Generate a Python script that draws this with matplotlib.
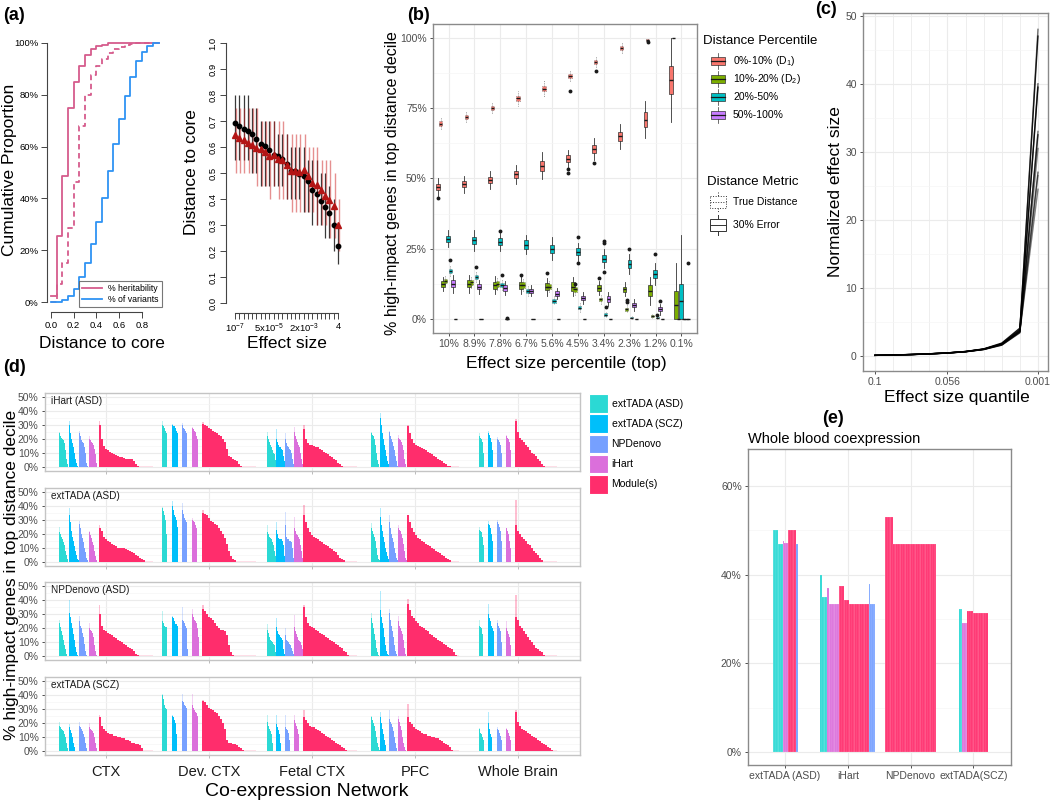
import numpy as np
import matplotlib
matplotlib.use("Agg")
import matplotlib.pyplot as plt
from matplotlib.patches import Rectangle
from matplotlib.lines import Line2D

plt.rcParams['font.family'] = ['Liberation Sans', 'DejaVu Sans']
plt.rcParams['mathtext.fontset'] = 'custom'
plt.rcParams['mathtext.rm'] = 'Liberation Sans'
plt.rcParams['mathtext.it'] = 'Liberation Sans:italic'

# ======================= DATA =======================
# (a) left: cumulative proportion vs distance to core
a_dist = [0.0, 0.05, 0.10, 0.15, 0.20, 0.25, 0.30, 0.35, 0.40, 0.45,
          0.50, 0.55, 0.60, 0.65, 0.70, 0.75, 0.80, 0.85, 0.90, 0.95]
a_herit = [2.5, 25.5, 48.5, 75, 85, 91, 95.5, 97.5, 98.7, 99.4,
           99.8, 100, 100, 100, 100, 100, 100, 100, 100, 100]
a_herit_err = [0, 7, 15, 28.5, 46.5, 68, 80, 87.5, 91, 94,
               96, 97.5, 98.5, 99.3, 99.7, 100, 100, 100, 100, 100]
a_variants = [0, 0.2, 0.6, 2.4, 5, 9.5, 15, 22.4, 31, 40,
              50.5, 61, 70.5, 79.4, 87, 93, 96.5, 98.7, 100, 100]

# (a) right: distance to core vs effect size bins
a_es_ticklabels = ['10$^{-7}$', '5x10$^{-5}$', '2x10$^{-3}$', '4']
a_es_tickbins = [1, 9, 17, 25]
a_black_mean = [0.692, 0.682, 0.671, 0.663, 0.651, 0.632, 0.613, 0.603, 0.59, 0.568,
                0.564, 0.554, 0.536, 0.506, 0.506, 0.497, 0.49, 0.468, 0.433, 0.419,
                0.391, 0.369, 0.346, 0.301, 0.22]
a_black_lo = [0.55, 0.55, 0.55, 0.55, 0.50, 0.50, 0.45, 0.45, 0.45, 0.45,
              0.45, 0.45, 0.40, 0.40, 0.40, 0.40, 0.35, 0.35, 0.30, 0.30,
              0.30, 0.25, 0.25, 0.20, 0.15]
a_black_hi = [0.80, 0.80, 0.80, 0.80, 0.75, 0.75, 0.70, 0.70, 0.70, 0.70,
              0.65, 0.65, 0.65, 0.60, 0.60, 0.60, 0.60, 0.55, 0.55, 0.55,
              0.50, 0.50, 0.45, 0.40, 0.30]
a_red_mean = [0.647, 0.635, 0.626, 0.615, 0.609, 0.596, 0.592, 0.581, 0.564, 0.568,
              0.555, 0.551, 0.529, 0.506, 0.508, 0.503, 0.51, 0.49, 0.462, 0.455,
              0.436, 0.413, 0.397, 0.372, 0.301]
a_red_lo = [0.50, 0.50, 0.50, 0.50, 0.50, 0.45, 0.45, 0.45, 0.40, 0.45,
            0.40, 0.40, 0.40, 0.35, 0.35, 0.35, 0.35, 0.35, 0.35, 0.30,
            0.30, 0.30, 0.25, 0.25, 0.20]
a_red_hi = [0.75, 0.75, 0.75, 0.75, 0.75, 0.75, 0.70, 0.70, 0.70, 0.70,
            0.70, 0.70, 0.65, 0.65, 0.65, 0.65, 0.65, 0.60, 0.60, 0.60,
            0.55, 0.55, 0.55, 0.50, 0.40]

# (b) boxplots: % high-impact genes in top distance decile
b_cats = ['10%', '8.9%', '7.8%', '6.7%', '5.6%', '4.5%', '3.4%', '2.3%', '1.2%', '0.1%']
b_groups = ['0%-10% (D$_1$)', '10%-20% (D$_2$)', '20%-50%', '50%-100%']
b_metrics = ['True Distance', '30% Error']
b_d1_err_med = [47, 48, 49.5, 51.5, 54.5, 57, 60.5, 65, 71, 85]
b_d1_err_half = [1.2, 1.0, 1.2, 1.3, 1.8, 1.3, 1.3, 1.5, 2.5, 5]
b_d1_err_wh = [2, 2, 2, 2, 3, 2, 2.5, 3, 4, 10]
b_d1_err_out = [(0, 43), (5, 52), (5, 53.5), (6, 55.5)]
b_d1_true_med = [69.5, 72, 75, 78.5, 82, 86.5, 91.5, 96.5, 99.2, 100]
b_d1_true_half = [0.8, 0.7, 0.7, 0.8, 1.0, 0.8, 0.7, 0.6, 0.3, 0]
b_d1_true_wh = [1.5, 1.5, 1.5, 2, 2, 1.5, 1.5, 1.5, 0.3, 0]
b_d1_true_out = [(5, 81), (6, 88.2), (8, 98.5)]
b_d2_err_med = [12.5, 12.5, 12, 12, 11.5, 11.5, 11, 10.5, 10, 5]
b_d2_err_half = [1.0, 1.2, 1.2, 1.2, 1.2, 1.5, 1.0, 1.0, 2.0, 5]
b_d2_err_wh = [1.5, 2, 2, 2, 2, 2, 1.5, 1.5, 3, 10]
b_d2_err_out = [(3, 15.8), (4, 16.3), (6, 14.6)]
b_d2_true_med = [13.5, 13, 12.5, 12, 11.5, 10.5, 7, 3.5, 1, 0]
b_d2_true_half = [0.8, 0.8, 1.0, 1.0, 0.8, 0.8, 0.6, 0.5, 0.3, 0]
b_d2_true_wh = [1.5, 1.5, 1.5, 1.5, 1.5, 1.5, 1, 1, 0.5, 0]
b_d2_true_out = [(7, 6.2), (7, 6.8), (5, 12.3)]
b_d3_err_med = [28.5, 28, 27.5, 26.5, 25, 24, 21.5, 19.5, 16, 6.25]
b_d3_err_half = [1.0, 1.2, 1.2, 1.5, 1.5, 1.2, 1.3, 1.5, 1.5, 6.25]
b_d3_err_wh = [2, 2.5, 2, 2, 2.5, 2, 2, 2, 2.5, 17.5]
b_d3_err_out = [(2, 31.3), (5, 29.3), (5, 19.8), (6, 27.2), (6, 27.6), (6, 16.8), (7, 25), (8, 23.3)]
b_d3_true_med = [17, 15, 12, 10, 6.5, 4, 1.5, 0.5, 0.5, 0]
b_d3_true_half = [0.8, 0.7, 0.7, 0.7, 0.7, 0.6, 0.5, 0.3, 0.2, 0]
b_d3_true_wh = [1.2, 1.2, 1.5, 1.0, 1.0, 1.0, 0.8, 0.5, 0.5, 0]
b_d3_true_out = [(0, 21), (1, 18.5), (2, 15.5), (6, 4.2), (8, 1.5)]
b_d4_err_med = [12.5, 11.5, 11, 10, 9, 7.5, 7, 5, 3.5, 0]
b_d4_err_half = [1.2, 1.0, 1.0, 0.8, 0.8, 0.8, 1.0, 0.8, 0.8, 0]
b_d4_err_wh = [2, 1.5, 1.5, 1.2, 1.2, 1.2, 1.5, 1.2, 1.2, 0]
b_d4_err_out = [(8, 6.5)]
b_d4_true_med = [0, 0, 0, 0, 0, 0, 0, 0, 0, 0]
b_d4_true_half = [0, 0, 0, 0, 0, 0, 0, 0, 0, 0]
b_d4_true_wh = [0, 0, 0, 0, 0, 0, 0, 0, 0, 0]
b_d4_true_out = [(2, 0.3), (9, 20)]

# (c) normalized effect size vs quantile
c_quantile = [0.1, 0.089, 0.078, 0.067, 0.056, 0.045, 0.034, 0.023, 0.012, 0.001]
c_tick_vals = [0.1, 0.056, 0.001]
c_run1 = [0.10, 0.15, 0.22, 0.32, 0.45, 0.65, 1.00, 1.70, 3.6, 48.0]
c_run2 = [0.10, 0.15, 0.22, 0.33, 0.46, 0.66, 1.00, 1.80, 3.9, 47.0]
c_run3 = [0.10, 0.14, 0.21, 0.31, 0.44, 0.63, 0.95, 1.60, 3.4, 40.0]
c_run4 = [0.10, 0.15, 0.23, 0.33, 0.46, 0.67, 1.05, 1.90, 4.1, 39.5]
c_run5 = [0.10, 0.14, 0.21, 0.30, 0.43, 0.62, 0.95, 1.60, 3.5, 33.0]
c_run6 = [0.10, 0.15, 0.22, 0.32, 0.45, 0.64, 1.00, 1.75, 3.7, 32.5]
c_run7 = [0.10, 0.14, 0.22, 0.31, 0.44, 0.64, 0.98, 1.70, 3.6, 30.5]
c_run8 = [0.10, 0.15, 0.22, 0.32, 0.45, 0.66, 1.02, 1.80, 3.8, 27.0]
c_run9 = [0.10, 0.14, 0.21, 0.31, 0.44, 0.63, 0.97, 1.65, 3.5, 26.5]
c_run10 = [0.10, 0.15, 0.22, 0.32, 0.45, 0.65, 1.00, 1.70, 3.6, 24.5]

# (d) per-network sorted module enrichments; order in each network:
# [extTADA (ASD), extTADA (SCZ), NPDenovo, iHart, Module(s)]
d_networks = ['CTX', 'Dev. CTX', 'Fetal CTX', 'PFC', 'Whole Brain']
d_sets = ['extTADA (ASD)', 'extTADA (SCZ)', 'NPDenovo', 'iHart', 'Module(s)']
d_rows = ['iHart (ASD)', 'extTADA (ASD)', 'NPDenovo (ASD)', 'extTADA (SCZ)']
d_ihart = [
    [[24, 22, 21, 20, 19, 17, 12, 6, 2], [30, 24, 20, 17, 14, 10, 6, 3, 1],
     [24, 22, 19, 18, 17, 14, 10, 3, 1], [20, 19, 18, 17, 16, 13, 9, 3],
     [30, 20, 15, 13, 12, 11, 10, 9, 8.5, 8, 7.5, 7, 6.5, 6, 6, 6, 5.5, 4, 2, 1]],
    [[30, 29, 28, 26, 24], [30, 29, 29, 28, 26, 24], [30, 28, 27, 26, 24],
     [28, 27, 26, 25, 22, 20],
     [31, 30, 29, 28, 27, 26, 25, 24, 23, 22, 20, 18, 13, 8, 7, 6, 5, 4, 2, 1]],
    [[22, 20, 18, 16, 14, 12, 10, 9, 5], [20, 18, 16, 14, 14, 13, 12, 8, 4],
     [20, 17, 15, 14, 13, 12, 10, 6, 2], [25, 22, 20, 18, 16, 14, 10, 6, 2],
     [27, 20, 17, 16, 15.5, 15, 14.5, 14, 13, 12, 11, 10, 9, 8, 7, 6, 5, 3, 2, 1]],
    [[24, 23, 22, 20, 16, 10, 5, 2], [35, 30, 24, 20, 16, 12, 8, 4, 2],
     [25, 22, 20, 18, 15, 12, 8, 4, 1], [21, 20, 19, 18, 16, 12, 6, 2],
     [29, 24, 20, 17, 16, 15, 14, 13.5, 13, 12, 11, 10, 9, 8, 7, 6, 5, 4, 3, 2, 1, 0.5]],
    [[22, 21, 20, 18, 10], [24, 23, 21, 18, 12], [20, 19, 18, 16, 10],
     [22, 21, 20, 18, 12],
     [33, 25, 21, 19, 18, 16, 14, 12, 10, 9, 8, 6, 4, 2, 1]],
]
d_ihart_peaks = [[25, 33, 26, 22, 32.5], [33, 30.5, 31.7, 28.6, 32.4], [25, 27, 24, 28.6, 30],
                 [25, 38.7, 26, 22.8, 30], [24, 26, 21.6, 22.8, 34]]
d_exttada_asd = [
    [[21, 20, 18, 16, 14, 12, 8, 5, 2], [33, 28, 22, 18, 15, 11, 8, 5, 2, 1],
     [27, 24, 20, 17, 14, 10, 7, 3, 1], [21, 19, 17, 14, 12, 8, 4, 1],
     [24, 22, 18, 16, 15, 14, 13, 12, 11, 10, 10, 9.5, 9.5, 9, 8.5, 8, 7, 6, 5, 4, 3, 2, 1]],
    [[38, 36, 33, 30, 20], [40, 37, 33, 32, 30, 25], [37, 34, 31, 30, 28],
     [30, 29, 28, 26, 24],
     [35, 34, 33, 31, 29, 28, 27, 26, 24, 22, 20, 17, 13, 8, 4, 2, 1]],
    [[21, 20, 18, 17, 16, 14, 12, 8, 4], [23, 20, 17, 16, 16, 16, 15, 12, 4],
     [26, 18, 16, 16, 15, 15, 14, 10, 3], [24, 22, 20, 19, 18, 16, 12, 8, 3],
     [33, 28, 24, 21, 19, 18, 17, 16, 15, 14, 13, 12, 11, 10, 9, 8, 7, 5, 3, 2, 1]],
    [[24, 22, 20, 18, 15, 10, 5, 2, 1], [32, 26, 22, 18, 14, 10, 7, 4, 2],
     [28, 24, 20, 17, 14, 10, 6, 3, 1], [24, 23, 22, 20, 17, 13, 8, 3, 1],
     [33, 28, 24, 21, 19, 17, 16, 15, 14, 13, 12, 11, 10, 9, 8, 7, 6, 5, 4, 3, 2, 1]],
    [[23, 22, 21, 18, 12], [27, 26, 24, 20, 15], [28, 27, 25, 22, 15],
     [24, 22, 20, 15, 10],
     [26, 22, 20, 18, 16, 15, 13, 12, 10, 8, 6, 5, 3, 1]],
]
d_exttada_asd_peaks = [[24.6, 38, 29, 22, 26.5], [39, 43, 42, 31, 36.6], [26.5, 28.4, 35.3, 32, 40.6],
                       [27.7, 38, 33.5, 26, 33.6], [24.6, 29, 30, 24, 44]]
d_npdenovo = [
    [[24, 21, 18, 15, 12, 8, 5, 2], [31, 28, 24, 20, 16, 12, 7, 3, 1],
     [25, 22, 20, 17, 14, 9, 4, 1], [20, 19, 18, 17, 14, 8, 4, 1],
     [30, 22, 19, 18, 17, 16, 15, 14, 13, 12, 11, 10, 9, 8, 7, 6, 5, 4, 2, 1]],
    [[25, 24, 22, 21, 21], [28, 27, 25, 23, 23, 22], [26, 25, 24, 22, 20, 5],
     [30, 28, 26, 25, 24, 20, 14],
     [34, 32, 30, 28, 27, 26, 24, 22, 20, 19, 19, 18, 15, 8, 3, 1]],
    [[19, 17, 14, 12, 11, 10, 9, 8, 3], [21, 18, 16, 15, 14, 13, 12, 5, 2],
     [15, 12, 11, 10, 9, 8, 6, 4, 2], [21, 18, 16, 14, 12, 11, 10, 8, 5],
     [35, 28, 24, 22, 21, 20, 19, 18, 17, 16, 15, 14, 13, 12, 11, 10, 9, 8, 7, 6, 4, 3, 1]],
    [[27, 24, 20, 16, 12, 6, 3, 1], [33, 28, 24, 20, 14, 8, 4, 2, 1],
     [31, 26, 22, 18, 14, 8, 4, 2], [25, 22, 20, 18, 16, 12, 6, 2],
     [37, 33, 29, 27, 25, 24, 22, 21, 20, 19, 18, 16, 15, 14, 13, 12, 11, 10, 9, 8, 7, 6, 5, 3, 1]],
    [[22, 21, 20, 16], [30, 27, 25, 22, 20, 18], [24, 22, 20, 18, 10],
     [20, 18, 16, 14, 8],
     [28, 26, 22, 20, 18, 16, 14, 12, 10, 8, 6, 5, 4, 3, 1]],
]
d_npdenovo_peaks = [[26, 40, 29, 23.5, 36.6], [32, 29, 35, 33.6, 36.7], [23, 27, 20, 29.7, 36.7],
                    [31, 46.7, 33.6, 28.5, 40.6], [26, 37.4, 25.7, 25.5, 44]]
d_exttada_scz = [
    [[18, 17, 16, 15, 14, 12, 10, 6, 2], [17, 15, 13, 10, 6, 3],
     [18, 17, 16, 14, 12, 10, 6, 2], [17, 16, 15, 14, 13, 10, 6, 2],
     [24, 18, 16, 14, 13, 12, 12, 11, 11, 10, 10, 9, 9, 8, 8, 7, 6, 6, 5, 5, 4, 2]],
    [[40, 37, 33, 31, 30], [25, 24, 22, 20, 12], [36, 35, 33, 32, 31],
     [33, 31, 29, 28, 27, 25],
     [36, 35, 33, 31, 30, 29, 28, 27, 25, 23, 20, 16, 8, 6, 6, 5, 5, 4, 3, 2, 1]],
    [[21, 18, 16, 14, 12, 6], [19, 17, 15, 12, 6], [17, 16, 15, 13, 8],
     [22, 20, 18, 16, 12],
     [24, 22, 20, 18, 17, 17, 16, 15, 14, 13, 12, 11, 10, 9, 8, 7, 6, 5, 4, 3, 2, 1]],
    [[24, 22, 20, 18, 14, 10, 6, 3, 1], [24, 20, 16, 12, 8, 4],
     [23, 21, 19, 17, 14, 10, 6, 2], [23, 21, 18, 15, 10, 6, 3, 1],
     [24, 21, 19, 17, 16, 15, 14, 13, 12, 12, 11, 11, 10, 10, 9, 9, 8, 7, 6, 5, 4, 3, 1]],
    [[16, 13, 12, 10, 8], [20, 16, 12, 10], [16, 15, 13, 11, 8],
     [16, 15, 13, 11, 8],
     [28, 21, 18, 16, 15, 14, 13, 12, 11, 10, 9, 8, 7, 6, 5, 4, 3, 2, 1]],
]
d_exttada_scz_peaks = [[21, 19, 21, 20, 25.6], [41, 25.6, 41, 41, 36.5], [26, 25.6, 26, 26, 29.5],
                       [25, 28, 29, 25, 33.5], [16.3, 28, 17, 16.7, 29]]

# (e) whole blood coexpression
e_groups = ['extTADA (ASD)', 'iHart', 'NPDenovo', 'extTADA(SCZ)']
e_asd_set = [0, 0, 0, 0, 0, 0, 3, 3, 3, 4, 4, 4, 4, 4, 2]
e_asd_val = [50, 50, 50, 47, 47, 47, 47.5, 47.2, 47.2, 50, 50, 50, 50, 50, 47]
e_ihart_set = [0, 0, 0, 0, 3, 3, 3, 3, 3, 3, 3, 4, 4, 4, 4, 4, 4, 4, 4, 4, 4, 4, 4,
               4, 4, 4, 4, 4, 4, 2, 2, 2, 2]
e_ihart_val = [40, 35, 35, 35, 37, 33.3, 33.3, 33.3, 33.3, 33.3, 33.3, 37.5, 37.5, 37.5,
               34.2, 34.2, 34.2, 33.3, 33.3, 33.3, 33.3, 33.3, 33.3, 33.3, 33.3, 33.3,
               33.3, 33.3, 33.3, 38, 33.3, 33.3, 33.3]
e_np_set = [4, 4, 4, 4, 4, 4, 4, 4, 4, 4, 4, 4, 4, 4, 4, 4, 4, 4, 4, 4, 4, 4, 4, 4,
            4, 4, 4, 4, 4, 4, 4]
e_np_val = [53, 53, 53, 53, 53, 47, 47, 47, 47, 47, 47, 47, 47, 47, 47, 47, 47, 47,
            47, 47, 47, 47, 47, 47, 47, 47, 47, 47, 47, 47, 47]
e_scz_set = [0, 0, 3, 3, 3, 4, 4, 4, 4, 4, 4, 4, 4, 4, 4, 4, 4]
e_scz_val = [32.2, 32.2, 29, 29, 29, 31.8, 31.8, 31.8, 31.3, 31.3, 31.3, 31.3, 31.3,
             31.3, 31.3, 31.3, 31.3]

# ======================= STYLE =======================
W, H = 1050, 805
fig = plt.figure(figsize=(W / 100, H / 100), dpi=100)
PINK = '#D55C8C'
BLUE = '#2F93F3'
GG4 = ['#F8766D', '#7CAE00', '#00BFC4', '#C77CFF']
SETC = ['#2BD9D4', '#00BFFA', '#76A0FF', '#DB6FDB', '#FF2D6C']
TICKC = '#4d4d4d'


def px_axes(x0, y0, x1, y1):
    return fig.add_axes([x0 / W, 1 - y1 / H, (x1 - x0) / W, (y1 - y0) / H])


def ftext(x, y, s, **kw):
    fig.text(x / W, 1 - y / H, s, **kw)


def gg_style(ax, border='#8a8a8a'):
    ax.set_facecolor('white')
    for s in ax.spines.values():
        s.set_color(border)
        s.set_linewidth(1.0)
    ax.tick_params(which='major', colors='#333333', labelcolor=TICKC, labelsize=7.5,
                   length=2.5, width=0.6, pad=2)
    ax.tick_params(which='minor', length=0)
    ax.grid(True, which='major', color='#ebebeb', lw=0.8)
    ax.grid(True, which='minor', color='#f5f5f5', lw=0.5)
    ax.set_axisbelow(True)


# ======================= (a) left =======================
axA = px_axes(46.7, 32.6, 163, 312.4)
axA.set_xlim(-0.038, 0.988)
axA.set_ylim(-4, 104)
axA.step(a_dist, a_herit, where='post', color=PINK, lw=1.3)
axA.step(a_dist, a_herit_err, where='post', color=PINK, lw=1.3, ls=(0, (3, 2)))
axA.step(a_dist, a_variants, where='post', color=BLUE, lw=1.3)
for s in ['top', 'right']:
    axA.spines[s].set_visible(False)
axA.spines['left'].set_bounds(0, 100)
axA.spines['bottom'].set_bounds(0, 0.8)
for s in ['left', 'bottom']:
    axA.spines[s].set_color('#444444')
    axA.spines[s].set_linewidth(0.8)
axA.set_yticks([0, 20, 40, 60, 80, 100])
axA.set_yticklabels(['0%', '20%', '40%', '60%', '80%', '100%'])
axA.set_xticks([0, 0.2, 0.4, 0.6, 0.8])
axA.set_xticklabels(['0.0', '0.2', '0.4', '0.6', '0.8'])
axA.tick_params(labelsize=6.8, length=4, width=0.7, color='#444444', pad=2)
axA.set_facecolor('none')
leg = axA.legend([Line2D([], [], color=PINK, lw=1.3), Line2D([], [], color=BLUE, lw=1.3)],
                 ['% heritability', '% of variants'], loc='upper left',
                 bbox_to_anchor=(79 / W, 1 - 281 / H), bbox_transform=fig.transFigure,
                 fontsize=6.3, frameon=True, fancybox=False, handlelength=2.3,
                 borderpad=0.35, labelspacing=0.25, handletextpad=0.7, borderaxespad=0)
leg.get_frame().set_edgecolor('#555555')
leg.get_frame().set_linewidth(0.8)
ftext(10, 170, 'Cumulative Proportion', fontsize=12.5, rotation=90, ha='center', va='center')
ftext(102, 343, 'Distance to core', fontsize=12.5, ha='center', va='center')

# ======================= (a) right =======================
axR = px_axes(226, 32.6, 347, 313.4)
pos = np.arange(1, len(a_black_mean) + 1)
axR.set_xlim(-1.1, 27.1)
axR.set_ylim(-0.04, 1.04)
axR.vlines(pos, a_black_lo, a_black_hi, color='#3a3a3a', lw=0.9)
axR.vlines(pos + 0.2, a_red_lo, a_red_hi, color='#cc2222', lw=1.0, alpha=0.5)
axR.plot(pos, a_black_mean, 'o', color='black', ms=3.2, zorder=4)
axR.plot(pos, a_red_mean, '^', color='#B31515', ms=4.0, zorder=5)
for s in ['top', 'right']:
    axR.spines[s].set_visible(False)
axR.spines['left'].set_bounds(0, 1)
axR.spines['bottom'].set_bounds(1, 25)
for s in ['left', 'bottom']:
    axR.spines[s].set_color('#444444')
    axR.spines[s].set_linewidth(0.8)
axR.set_yticks(np.round(np.arange(0, 1.01, 0.1), 1))
axR.set_yticklabels(['%.1f' % v for v in np.arange(0, 1.01, 0.1)], rotation=90, va='center')
axR.set_xticks(pos)
axR.set_xticklabels([a_es_ticklabels[a_es_tickbins.index(p)] if p in a_es_tickbins else ''
                     for p in pos])
axR.tick_params(labelsize=6.8, length=4, width=0.7, color='#444444', pad=2)
axR.set_facecolor('none')
ftext(191, 172, 'Distance to core', fontsize=12.5, rotation=90, ha='center', va='center')
ftext(287, 343, 'Effect size', fontsize=12.5, ha='center', va='center')

# ======================= (b) =======================
axB = px_axes(433, 24, 697, 333)
gg_style(axB)
axB.set_xlim(0.4, 10.6)
axB.set_ylim(-5, 105)
series_b = [
    (b_d1_err_med, b_d1_err_half, b_d1_err_wh, b_d1_err_out, 0, False),
    (b_d1_true_med, b_d1_true_half, b_d1_true_wh, b_d1_true_out, 0, True),
    (b_d2_err_med, b_d2_err_half, b_d2_err_wh, b_d2_err_out, 1, False),
    (b_d2_true_med, b_d2_true_half, b_d2_true_wh, b_d2_true_out, 1, True),
    (b_d3_err_med, b_d3_err_half, b_d3_err_wh, b_d3_err_out, 2, False),
    (b_d3_true_med, b_d3_true_half, b_d3_true_wh, b_d3_true_out, 2, True),
    (b_d4_err_med, b_d4_err_half, b_d4_err_wh, b_d4_err_out, 3, False),
    (b_d4_true_med, b_d4_true_half, b_d4_true_wh, b_d4_true_out, 3, True),
]
err_off = [-0.39, -0.20, -0.01, 0.18]
for med, half, wh, outl, gi, is_true in series_b:
    stats = []
    for c in range(len(b_cats)):
        q1 = max(0, med[c] - half[c])
        q3 = min(100, med[c] + half[c])
        stats.append(dict(med=med[c], q1=q1, q3=q3,
                          whislo=max(0, q1 - wh[c]), whishi=min(100, q3 + wh[c]),
                          fliers=[v for (cc, v) in outl if cc == c]))
    xs = np.arange(1, len(b_cats) + 1) + err_off[gi] + (0.08 if is_true else 0)
    ls = ':' if is_true else '-'
    ec = '#666666' if is_true else '#333333'
    axB.bxp(stats, positions=xs, widths=0.13 if is_true else 0.15, patch_artist=True,
            showcaps=False, manage_ticks=False,
            boxprops=dict(facecolor=GG4[gi], edgecolor=ec, linestyle=ls, linewidth=0.5),
            whiskerprops=dict(color=ec, linestyle=ls, linewidth=0.6),
            medianprops=dict(color='#1a1a1a', linewidth=1.0),
            flierprops=dict(marker='o', markerfacecolor='#1a1a1a', markeredgewidth=0,
                            markersize=2.8))
axB.set_xticks(np.arange(1, len(b_cats) + 1))
axB.set_xticklabels(b_cats)
axB.set_yticks([0, 25, 50, 75, 100])
axB.set_yticklabels(['0%', '25%', '50%', '75%', '100%'])
axB.set_yticks([12.5, 37.5, 62.5, 87.5], minor=True)
ftext(393, 183, '% high-impact genes in top distance decile', fontsize=11.5, rotation=90,
      ha='center', va='center')
ftext(566, 363, 'Effect size percentile (top)', fontsize=12.5, ha='center', va='center')

# (b) legend drawn in pixel space
legB = px_axes(700, 25, 845, 240)
legB.set_xlim(700, 845)
legB.set_ylim(240, 25)
legB.axis('off')
legB.text(703, 41, 'Distance Percentile', fontsize=9.5, va='center')
for i, (lab, col) in enumerate(zip(b_groups, GG4)):
    y = 61 + 18 * i
    legB.add_patch(Rectangle((711, y - 4), 14, 8, facecolor=col, edgecolor='#333333', lw=0.5))
    legB.plot([711, 725], [y, y], color='#1a1a1a', lw=0.9)
    legB.plot([718, 718], [y - 8, y - 4], color='#333333', lw=0.5)
    legB.plot([718, 718], [y + 4, y + 8], color='#333333', lw=0.5)
    legB.text(733, y, lab, fontsize=7.5, va='center')
legB.text(707, 182, 'Distance Metric', fontsize=9.5, va='center')
for i, (lab, ls) in enumerate(zip(b_metrics, [':', '-'])):
    y = 202 + 23 * i
    legB.add_patch(Rectangle((710, y - 6), 16, 12, facecolor='white', edgecolor='#333333',
                             lw=0.7, ls=ls))
    legB.plot([710, 726], [y, y], color='#333333', lw=0.7, ls=ls)
    legB.plot([718, 718], [y - 10, y - 6], color='#333333', lw=0.7, ls=ls)
    legB.plot([718, 718], [y + 6, y + 10], color='#333333', lw=0.7, ls=ls)
    legB.text(733, y, lab, fontsize=7.5, va='center')

# ======================= (c) =======================
axC = px_axes(863, 13, 1048, 371)
gg_style(axC)
axC.set_xlim(0.1073, -0.0051)
axC.set_ylim(-2.2, 50.4)
runs = [c_run1, c_run2, c_run3, c_run4, c_run5, c_run6, c_run7, c_run8, c_run9, c_run10]
alphas = [0.55, 0.85, 0.6, 0.9, 0.55, 0.75, 0.5, 0.6, 0.45, 0.5]
for r, a in zip(runs, alphas):
    axC.plot(c_quantile, r, color='black', lw=1.0, alpha=a)
axC.set_xticks(c_tick_vals)
axC.set_xticklabels(['0.1', '0.056', '0.001'])
axC.set_xticks(c_quantile, minor=True)
axC.set_yticks([0, 10, 20, 30, 40, 50])
axC.set_yticks([5, 15, 25, 35, 45], minor=True)
axC.grid(True, which='minor', axis='x', color='#ebebeb', lw=0.6)
ftext(836, 192, 'Normalized effect size', fontsize=12.5, rotation=90, ha='center', va='center')
ftext(957, 397, 'Effect size quantile', fontsize=12.5, ha='center', va='center')

# ======================= (d) =======================
d_all = [(d_ihart, d_ihart_peaks), (d_exttada_asd, d_exttada_asd_peaks),
         (d_npdenovo, d_npdenovo_peaks), (d_exttada_scz, d_exttada_scz_peaks)]
row_tops = [393, 487.7, 582.3, 677]
small_slots = [10, 10, 9, 9, 9]
module_bars = [27, 27, 27, 26, 21]
sw = 1 / 103
for r, ((rowdata, peaks), top) in enumerate(zip(d_all, row_tops)):
    ax = px_axes(45, top, 580, top + 78)
    gg_style(ax, border='#c4c4c4')
    ax.set_xlim(0.41, 5.6)
    ax.set_ylim(-2.8, 52.8)
    for j, net in enumerate(rowdata):
        ns = small_slots[j]
        total = 4 * ns + 2 * module_bars[j]
        x0 = (j + 1) - total * sw / 2
        for k in range(4):
            vals = net[k]
            xs = x0 + (k * ns + np.arange(len(vals)) + 0.5) * sw
            ax.bar(x0 + (k * ns + 0.5) * sw, peaks[j][k], width=sw * 1.3, color=SETC[k],
                   alpha=0.3, lw=0)
            ax.bar(xs, vals, width=sw * 1.05, color=SETC[k], lw=0)
        mod = list(net[4]) + [0] * (module_bars[j] - len(net[4]))
        base = x0 + 4 * ns * sw
        xs = base + (2 * np.arange(len(mod)) + 1) * sw
        ax.bar(base + sw, peaks[j][4], width=sw * 1.3, color=SETC[4], alpha=0.3, lw=0)
        ax.bar(xs, mod, width=2 * sw * 1.02, color=SETC[4], lw=0)
        zero = np.array(mod) == 0
        ax.bar(xs[zero], np.full(zero.sum(), 0.7), width=2 * sw, color=SETC[4], alpha=0.15, lw=0)
    ax.set_xticks(np.arange(1, 6))
    ax.set_yticks([0, 10, 20, 30, 40, 50])
    ax.set_yticklabels(['0%', '10%', '20%', '30%', '40%', '50%'])
    ax.set_yticks([5, 15, 25, 35, 45], minor=True)
    ax.tick_params(axis='x', colors='#b0b0b0')
    if r < 3:
        ax.set_xticklabels([])
    else:
        ax.set_xticklabels(d_networks, fontsize=10.5, color='#1a1a1a')
        ax.tick_params(axis='x', pad=5)
    ax.text(0.011, 0.9, d_rows[r], transform=ax.transAxes, fontsize=7.2, va='center',
            color='#1a1a1a')

ftext(12, 575, '% high-impact genes in top distance decile', fontsize=12.5, rotation=90,
      ha='center', va='center')
ftext(307, 791, 'Co-expression Network', fontsize=14, ha='center', va='center')

# (d) legend
legD = px_axes(585, 390, 700, 500)
legD.set_xlim(585, 700)
legD.set_ylim(500, 390)
legD.axis('off')
for i, (lab, col) in enumerate(zip(d_sets, SETC)):
    y = 403.5 + 20.2 * i
    legD.add_patch(Rectangle((589, y - 9.3), 18.5, 18.6, facecolor=col, edgecolor='white', lw=0.8))
    legD.text(611.5, y, lab, fontsize=7.5, va='center')

# ======================= (e) =======================
axE = px_axes(748, 449, 1011, 765)
gg_style(axE)
axE.set_xlim(0.41, 4.6)
axE.set_ylim(-2.93, 68.35)
esw = 0.0266
for g, (sets, vals) in enumerate([(e_asd_set, e_asd_val), (e_ihart_set, e_ihart_val),
                                  (e_np_set, e_np_val), (e_scz_set, e_scz_val)]):
    n = len(vals)
    x0 = (g + 1) - n * esw / 2
    xs = x0 + (np.arange(n) + 0.5) * esw
    axE.bar(xs, vals, width=esw, color=[SETC[s] for s in sets],
            edgecolor=(1, 1, 1, 0.35), linewidth=0.3)
axE.set_xticks(np.arange(1, 5))
axE.set_xticklabels(e_groups, fontsize=7.5)
axE.set_yticks([0, 20, 40, 60])
axE.set_yticklabels(['0%', '20%', '40%', '60%'])
axE.set_yticks([10, 30, 50], minor=True)
axE.set_title('Whole blood coexpression', fontsize=10.5, loc='left', pad=4)

# ======================= panel labels =======================
for lab, x, y in [('(a)', 3, 15), ('(b)', 407, 15), ('(c)', 815, 9), ('(d)', 3, 368),
                  ('(e)', 822, 418)]:
    ftext(x, y, lab, fontsize=13, fontweight='bold', va='center')

fig.savefig('out.png', dpi=100)
